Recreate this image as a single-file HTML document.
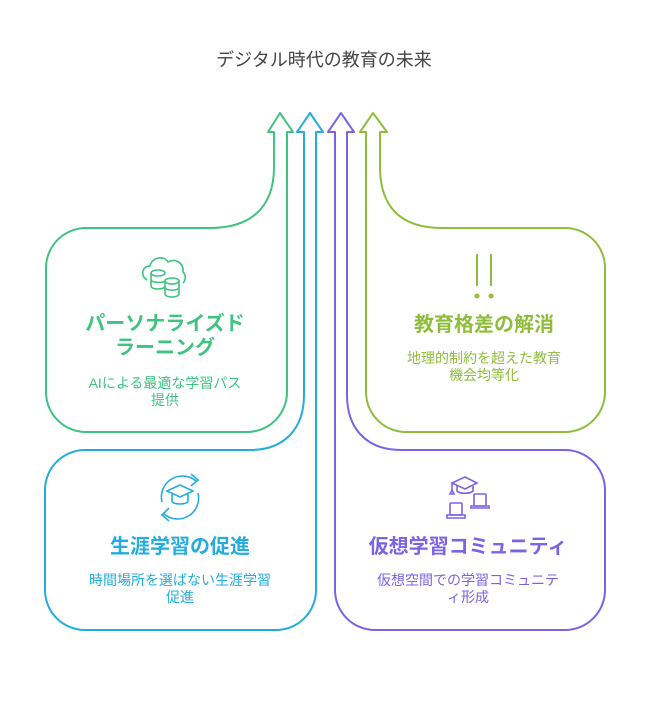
<!DOCTYPE html>
<html><head><meta charset="utf-8"><style>
html,body{margin:0;padding:0;background:#fff;}
svg{display:block}
text{font-family:"Liberation Sans","Noto Sans CJK JP",sans-serif;text-anchor:middle}
.t{font-size:20px;font-weight:bold}
.d{font-size:14px}
</style></head><body>
<svg width="648" height="708" viewBox="0 0 648 708" xmlns="http://www.w3.org/2000/svg">
<text x="324" y="66" font-size="18" fill="#444">デジタル時代の教育の未来</text>
<g fill="none" stroke-width="2" stroke-linejoin="round">
<path stroke="#3ec480" d="M274,132 L268,132 L280,113 L293,132 L287,132 L287,392 A40,40 0 0 1 247,432 L86,432 A40,40 0 0 1 46,392 L46,268 A40,40 0 0 1 86,228 L210,228 C248,228 274,210 274,167 Z"/>
<path stroke="#8fbd3a" d="M380,132 L387,132 L373,113 L360,132 L366,132 L366,392 A40,40 0 0 0 406,432 L565,432 A40,40 0 0 0 605,392 L605,268 A40,40 0 0 0 565,228 L442,228 C404,228 380,210 380,167 Z"/>
<path stroke="#23acdc" d="M316,132 L323,132 L310,113 L297,132 L304,132 L304,395 C304,428 285,450 250,450 L85,450 A40,40 0 0 0 45,490 L45,590 A40,40 0 0 0 85,630 L276,630 A40,40 0 0 0 316,590 Z"/>
<path stroke="#7c62e4" d="M335,132 L328,132 L341,113 L354,132 L347,132 L347,395 C347,428 366,450 401,450 L565,450 A40,40 0 0 1 605,490 L605,590 A40,40 0 0 1 565,630 L375,630 A40,40 0 0 1 335,590 Z"/>
</g>
<!-- green icon -->
<g fill="none" stroke="#3ec480" stroke-width="1.6">
<path d="M147,280 C140,276 142,266 150,266 C152,257 164,255 168,262 C174,258 184,262 183,272 C186,275 186,280 183,283"/>
<ellipse cx="158" cy="273" rx="7" ry="3"/><path d="M151,273 V286 C151,290 165,290 165,286"/><path d="M151,279.5 C151,283 163,283 165,281"/>
<ellipse cx="172" cy="281" rx="7" ry="3"/><path d="M165,281 V294 C165,298 179,298 179,294 V281"/><path d="M165,287.5 C165,291 179,291 179,287.5"/>
</g>
<text class="t" x="165" y="330" fill="#3ec480">パーソナライズド</text>
<text class="t" x="165" y="354" fill="#3ec480">ラーニング</text>
<text class="d" x="165" y="388" fill="#3ec480">AIによる最適な学習パス</text>
<text class="d" x="165" y="405" fill="#3ec480">提供</text>
<!-- yellow icon -->
<g stroke="#8fbd3a" stroke-width="2" fill="#8fbd3a">
<line x1="477" y1="254" x2="477" y2="286"/><line x1="491" y1="254" x2="491" y2="286"/>
<circle cx="477" cy="296" r="1.5"/><circle cx="491" cy="296" r="1.5"/>
</g>
<text class="t" x="484" y="331" fill="#8fbd3a">教育格差の解消</text>
<text class="d" x="484" y="363" fill="#8fbd3a">地理的制約を超えた教育</text>
<text class="d" x="484" y="380" fill="#8fbd3a">機会均等化</text>
<!-- blue icon -->
<g fill="none" stroke="#23acdc" stroke-width="1.6">
<path d="M162,502 A21,21 0 0 1 196,481"/><path d="M191,474 L198,480 L191,486"/>
<path d="M198,493 A21,21 0 0 1 164,514"/><path d="M169,508 L162,515 L169,521"/>
<path d="M167,491 L180,485 L193,491 L180,497 Z"/><path d="M172,494 V501 C172,505 188,505 188,501 V494"/>
</g>
<text class="t" x="180" y="553" fill="#23acdc">生涯学習の促進</text>
<text class="d" x="180" y="585" fill="#23acdc">時間場所を選ばない生涯学習</text>
<text class="d" x="180" y="602" fill="#23acdc">促進</text>
<!-- purple icon -->
<g fill="none" stroke="#7c62e4" stroke-width="1.6">
<path d="M452,483 L465,477 L477,483 L465,489 Z"/><path d="M457,486 V491 C460,494 470,494 473,491 V486"/><path d="M452,483 V491"/><path d="M450,494 L452,490 L454,494 Z"/>
<rect x="474" y="494" width="12" height="12" rx="1"/><path d="M471,506 H489 V508 H471 Z"/>
<rect x="450" y="503" width="12" height="12" rx="1"/><path d="M447,515 H465 V518 H447 Z"/>
</g>
<text class="t" x="468" y="553" fill="#7c62e4">仮想学習コミュニティ</text>
<text class="d" x="468" y="585" fill="#7c62e4">仮想空間での学習コミュニテ</text>
<text class="d" x="468" y="602" fill="#7c62e4">ィ形成</text>
</svg>
</body></html>
